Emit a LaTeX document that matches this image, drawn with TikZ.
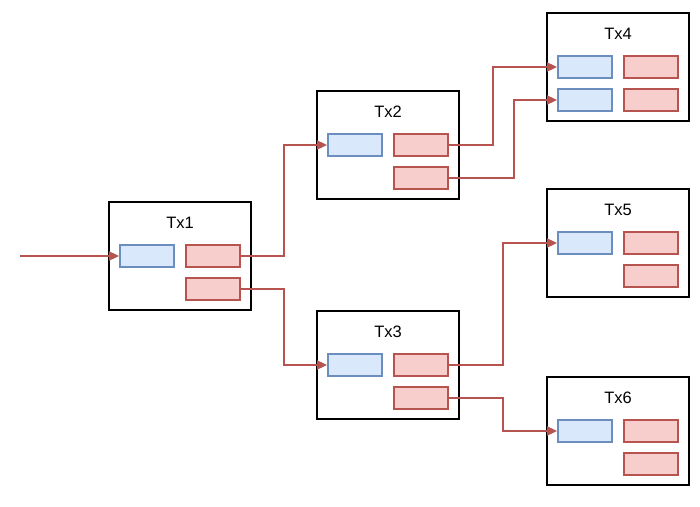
\documentclass[tikz,border=0pt]{standalone}
\usepackage{fontspec}
\setmainfont{Liberation Sans}
\usetikzlibrary{arrows.meta}
\definecolor{inline}{HTML}{6C8EBF}
\definecolor{infill}{HTML}{DAE8FC}
\definecolor{outline}{HTML}{B85450}
\definecolor{outfill}{HTML}{F8CECC}
\begin{document}
\begin{tikzpicture}[x=1pt,y=-1pt,
    txbox/.style={draw,line width=2pt,minimum width=142pt,minimum height=108pt,inner sep=0pt},
    inbox/.style={draw=inline,fill=infill,line width=1.8pt,minimum width=54pt,minimum height=22pt,inner sep=0pt},
    outbox/.style={draw=outline,fill=outfill,line width=1.8pt,minimum width=54pt,minimum height=22pt,inner sep=0pt},
    link/.style={draw=outline,line width=1.7pt,-{Triangle[length=10pt,width=9pt]}}]
  \useasboundingbox (0,0) rectangle (700,506);
  % transactions
  \foreach \n/\x/\y in {1/180/256, 2/388/145, 3/388/365, 4/618/67, 5/618/243, 6/618/431}{
    \node[txbox] (tx\n) at (\x,\y) {};
    \node[font=\fontsize{16.5}{20}\selectfont] (tx\n-title) at ([yshift=33pt]tx\n.center) {Tx\n};
    \node[inbox] (tx\n-in1) at ([xshift=-33pt]tx\n.center) {};
    \node[outbox] (tx\n-out1) at ([xshift=33pt]tx\n.center) {};
    \node[outbox] (tx\n-out2) at ([xshift=33pt,yshift=-33pt]tx\n.center) {};
  }
  \node[inbox] (tx4-in2) at ([xshift=-33pt,yshift=-33pt]tx4.center) {};
  % links
  \coordinate (start) at (20,256);
  \draw[link] (start) -- (tx1-in1.west);
  \draw[link] (tx1-out1.east) -- ++(43,0) |- (tx2-in1.west);
  \draw[link] (tx1-out2.east) -- ++(43,0) |- (tx3-in1.west);
  \draw[link] (tx2-out1.east) -- ++(44,0) |- (tx4-in1.west);
  \draw[link] (tx2-out2.east) -- ++(65,0) |- (tx4-in2.west);
  \draw[link] (tx3-out1.east) -- ++(54,0) |- (tx5-in1.west);
  \draw[link] (tx3-out2.east) -- ++(54,0) |- (tx6-in1.west);
\end{tikzpicture}
\end{document}
